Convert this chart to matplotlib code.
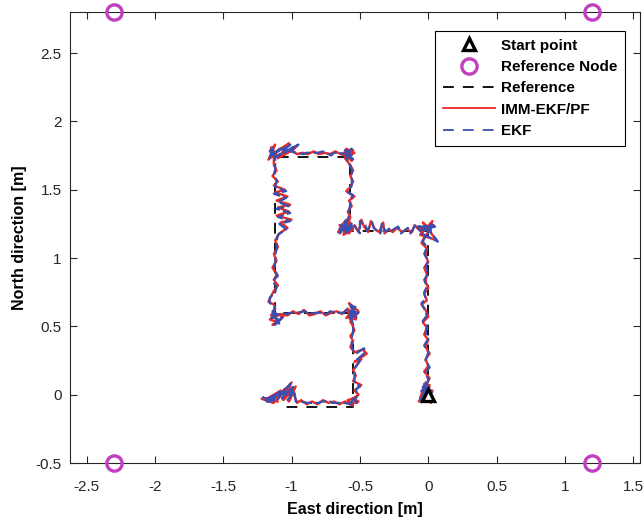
import matplotlib
matplotlib.use('Agg')
import matplotlib.pyplot as plt
from matplotlib.ticker import FormatStrFormatter
import numpy as np

plt.rcParams['font.family'] = ['Liberation Sans', 'DejaVu Sans']

# start point and reference nodes [m]
start_pt = (0.0, 0.0)
node_east = [-2.3, 1.2, -2.3, 1.2]
node_north = [2.8, 2.8, -0.5, -0.5]

# reference walking path
ref_east = [0.0, 0.0, -0.57, -0.57, -1.12, -1.12, -0.55, -0.55, -1.05]
ref_north = [0.0, 1.2, 1.2, 1.74, 1.74, 0.6, 0.6, -0.09, -0.09]

# IMM-EKF/PF estimate (east, north)
imm_path = [
    (0.00, 0.00), (-0.07, -0.05), (0.01, 0.07), (-0.05, 0.02), (0.04, -0.04), (-0.02, 0.09),
    (0.02, -0.06), (-0.04, 0.05), (0.03, 0.03), (-0.06, -0.02), (0.01, 0.12), (-0.03, 0.17),
    (0.00, 0.21), (-0.02, 0.26),
    (0.01, 0.30), (-0.02, 0.35), (0.00, 0.40), (-0.03, 0.44), (-0.01, 0.49), (-0.04, 0.53),
    (0.00, 0.57), (-0.02, 0.62), (-0.05, 0.66), (-0.01, 0.69), (-0.03, 0.74), (0.00, 0.78),
    (-0.02, 0.83), (-0.01, 0.88), (-0.03, 0.93), (0.00, 0.97), (-0.02, 1.02), (-0.01, 1.07),
    (-0.05, 1.11), (-0.03, 1.15), (0.00, 1.19), (0.03, 1.27), (-0.06, 1.17), (0.06, 1.13),
    (-0.04, 1.26), (0.02, 1.20), (-0.08, 1.22), (0.04, 1.24), (-0.05, 1.19), (-0.10, 1.24),
    (-0.12, 1.19), (-0.16, 1.21), (-0.19, 1.19), (-0.23, 1.22), (-0.26, 1.19), (-0.29, 1.21),
    (-0.32, 1.18), (-0.33, 1.26), (-0.36, 1.19), (-0.39, 1.21), (-0.42, 1.27), (-0.44, 1.19),
    (-0.47, 1.23), (-0.49, 1.28), (-0.51, 1.19), (-0.54, 1.24), (-0.58, 1.18), (-0.64, 1.22),
    (-0.57, 1.26), (-0.66, 1.19), (-0.60, 1.28), (-0.62, 1.17), (-0.55, 1.21), (-0.63, 1.25),
    (-0.59, 1.20), (-0.65, 1.24), (-0.61, 1.19), (-0.57, 1.30), (-0.59, 1.34), (-0.56, 1.38),
    (-0.58, 1.42), (-0.54, 1.45),
    (-0.60, 1.49), (-0.57, 1.52), (-0.55, 1.56), (-0.57, 1.60), (-0.55, 1.64), (-0.57, 1.68),
    (-0.61, 1.73), (-0.54, 1.77), (-0.60, 1.80), (-0.56, 1.71), (-0.62, 1.77), (-0.55, 1.79),
    (-0.59, 1.74), (-0.64, 1.76), (-0.68, 1.78), (-0.72, 1.76), (-0.76, 1.77), (-0.80, 1.76),
    (-0.84, 1.78), (-0.88, 1.76), (-0.92, 1.77), (-0.96, 1.76), (-1.00, 1.79), (-0.96, 1.82),
    (-1.05, 1.76), (-0.98, 1.80), (-1.10, 1.73), (-1.02, 1.84), (-1.15, 1.75), (-1.08, 1.80),
    (-1.17, 1.72), (-1.12, 1.83), (-1.16, 1.78), (-1.10, 1.74), (-1.15, 1.81), (-1.13, 1.73),
    (-1.13, 1.68), (-1.11, 1.64),
    (-1.14, 1.60), (-1.10, 1.56), (-1.13, 1.53), (-1.05, 1.50), (-1.12, 1.48), (-1.03, 1.45),
    (-1.11, 1.42), (-1.01, 1.39), (-1.10, 1.37), (-1.02, 1.34), (-1.11, 1.31), (-1.00, 1.28),
    (-1.08, 1.26), (-1.03, 1.22), (-1.09, 1.18), (-1.12, 1.13), (-1.10, 1.08), (-1.13, 1.03),
    (-1.11, 0.98), (-1.14, 0.93), (-1.11, 0.88), (-1.13, 0.84), (-1.10, 0.80), (-1.13, 0.76),
    (-1.15, 0.72), (-1.17, 0.68), (-1.13, 0.66), (-1.12, 0.63), (-1.15, 0.58), (-1.09, 0.54),
    (-1.14, 0.51), (-1.06, 0.57), (-1.13, 0.60), (-1.10, 0.53), (-1.16, 0.55), (-1.08, 0.59),
    (-1.03, 0.58), (-0.99, 0.61), (-0.95, 0.59), (-0.91, 0.62), (-0.87, 0.58), (-0.83, 0.59),
    (-0.79, 0.61), (-0.75, 0.58), (-0.71, 0.60), (-0.67, 0.61), (-0.63, 0.59), (-0.60, 0.62),
    (-0.53, 0.57), (-0.58, 0.67), (-0.51, 0.61), (-0.57, 0.53), (-0.54, 0.64), (-0.60, 0.56),
    (-0.52, 0.59), (-0.56, 0.60), (-0.53, 0.55), (-0.59, 0.63), (-0.56, 0.52), (-0.54, 0.47),
    (-0.57, 0.43), (-0.55, 0.39),
    (-0.57, 0.35), (-0.54, 0.31), (-0.48, 0.33), (-0.45, 0.30), (-0.54, 0.24), (-0.49, 0.26),
    (-0.55, 0.18), (-0.53, 0.14), (-0.55, 0.10), (-0.49, 0.07), (-0.54, 0.03), (-0.51, 0.00),
    (-0.55, -0.03), (-0.51, -0.05), (-0.58, -0.07), (-0.53, -0.02), (-0.59, -0.04), (-0.55, -0.08),
    (-0.61, -0.05), (-0.65, -0.07), (-0.69, -0.05), (-0.73, -0.06), (-0.77, -0.04), (-0.81, -0.07),
    (-0.85, -0.05), (-0.89, -0.07), (-0.93, -0.04), (-0.96, -0.06), (-0.99, 0.02), (-1.02, -0.05),
    (-0.97, 0.06), (-1.06, -0.04), (-1.00, 0.09), (-1.10, -0.03), (-1.04, 0.05), (-1.14, -0.04),
    (-1.08, 0.03), (-1.18, -0.03), (-1.12, -0.02), (-1.22, -0.03), (-1.13, -0.06), (-1.19, -0.04),
    (-1.10, -0.05), (-1.16, -0.02), (-1.11, -0.04),
]

# EKF estimate (east, north)
ekf_path = [
    (0.00, 0.01), (-0.06, -0.04), (0.02, 0.06), (-0.05, 0.03), (0.03, -0.05), (-0.03, 0.08),
    (0.02, -0.04), (-0.04, 0.06), (0.03, 0.02), (-0.05, -0.03), (0.00, 0.11), (-0.02, 0.16),
    (0.01, 0.20), (-0.02, 0.25),
    (0.00, 0.31), (-0.03, 0.36), (0.00, 0.41), (-0.02, 0.45), (-0.01, 0.50), (-0.04, 0.54),
    (-0.01, 0.58), (-0.03, 0.63), (-0.05, 0.67), (-0.02, 0.70), (-0.03, 0.75), (-0.01, 0.79),
    (-0.03, 0.84), (0.00, 0.89), (-0.02, 0.94), (0.00, 0.98), (-0.03, 1.03), (-0.01, 1.08),
    (-0.04, 1.12), (-0.02, 1.16), (0.01, 1.20), (0.04, 1.26), (-0.05, 1.18), (0.07, 1.12),
    (-0.03, 1.25), (0.01, 1.21), (-0.07, 1.23), (0.05, 1.23), (-0.06, 1.20), (-0.09, 1.25),
    (-0.13, 1.18), (-0.15, 1.22), (-0.20, 1.18), (-0.22, 1.23), (-0.27, 1.20), (-0.28, 1.22),
    (-0.31, 1.19), (-0.34, 1.25), (-0.35, 1.18), (-0.40, 1.22), (-0.41, 1.26), (-0.45, 1.20),
    (-0.46, 1.24), (-0.50, 1.27), (-0.50, 1.18), (-0.55, 1.25), (-0.59, 1.19), (-0.65, 1.21),
    (-0.56, 1.25), (-0.65, 1.18), (-0.61, 1.27), (-0.61, 1.18), (-0.56, 1.22), (-0.64, 1.24),
    (-0.58, 1.21), (-0.64, 1.20), (-0.60, 1.25), (-0.58, 1.31), (-0.58, 1.35), (-0.57, 1.39),
    (-0.57, 1.43), (-0.55, 1.46),
    (-0.59, 1.48), (-0.56, 1.53), (-0.56, 1.57), (-0.56, 1.61), (-0.56, 1.65), (-0.58, 1.69),
    (-0.60, 1.74), (-0.55, 1.76), (-0.61, 1.79), (-0.55, 1.72), (-0.61, 1.76), (-0.56, 1.80),
    (-0.58, 1.75), (-0.65, 1.77), (-0.69, 1.77), (-0.71, 1.75), (-0.77, 1.78), (-0.81, 1.77),
    (-0.83, 1.77), (-0.89, 1.77), (-0.91, 1.76), (-0.97, 1.77), (-1.01, 1.78), (-0.95, 1.83),
    (-1.06, 1.77), (-0.99, 1.81), (-1.11, 1.74), (-1.01, 1.83), (-1.14, 1.76), (-1.07, 1.81),
    (-1.16, 1.73), (-1.13, 1.82), (-1.15, 1.77), (-1.11, 1.73), (-1.16, 1.80), (-1.12, 1.75),
    (-1.12, 1.69), (-1.12, 1.65),
    (-1.13, 1.61), (-1.11, 1.57), (-1.12, 1.52), (-1.04, 1.49), (-1.13, 1.47), (-1.04, 1.44),
    (-1.10, 1.41), (-1.02, 1.38), (-1.11, 1.36), (-1.01, 1.33), (-1.10, 1.30), (-1.01, 1.27),
    (-1.09, 1.25), (-1.04, 1.21), (-1.10, 1.17), (-1.11, 1.12), (-1.11, 1.07), (-1.12, 1.02),
    (-1.12, 0.97), (-1.13, 0.92), (-1.10, 0.87), (-1.14, 0.83), (-1.11, 0.79), (-1.12, 0.75),
    (-1.16, 0.71), (-1.16, 0.67), (-1.12, 0.65), (-1.13, 0.62), (-1.14, 0.57), (-1.10, 0.55),
    (-1.13, 0.50), (-1.07, 0.56), (-1.14, 0.61), (-1.09, 0.52), (-1.15, 0.56), (-1.07, 0.60),
    (-1.04, 0.59), (-1.00, 0.60), (-0.96, 0.60), (-0.90, 0.61), (-0.88, 0.59), (-0.82, 0.60),
    (-0.80, 0.60), (-0.74, 0.59), (-0.72, 0.61), (-0.66, 0.60), (-0.62, 0.60), (-0.59, 0.63),
    (-0.54, 0.58), (-0.57, 0.66), (-0.52, 0.62), (-0.58, 0.54), (-0.53, 0.65), (-0.59, 0.57),
    (-0.51, 0.60), (-0.57, 0.61), (-0.52, 0.56), (-0.58, 0.62), (-0.55, 0.51), (-0.55, 0.46),
    (-0.56, 0.42), (-0.56, 0.38),
    (-0.56, 0.34), (-0.53, 0.30), (-0.47, 0.34), (-0.46, 0.31), (-0.53, 0.25), (-0.50, 0.25),
    (-0.54, 0.19), (-0.54, 0.13), (-0.54, 0.09), (-0.50, 0.06), (-0.53, 0.04), (-0.52, -0.01),
    (-0.54, -0.04), (-0.52, -0.06), (-0.57, -0.06), (-0.54, -0.03), (-0.58, -0.05), (-0.56, -0.07),
    (-0.62, -0.06), (-0.64, -0.06), (-0.70, -0.06), (-0.72, -0.05), (-0.78, -0.05), (-0.80, -0.06),
    (-0.86, -0.06), (-0.88, -0.06), (-0.94, -0.05), (-0.97, -0.05), (-0.98, 0.03), (-1.03, -0.04),
    (-0.98, 0.07), (-1.07, -0.03), (-1.01, 0.08), (-1.11, -0.04), (-1.05, 0.04), (-1.15, -0.03),
    (-1.09, 0.02), (-1.19, -0.04), (-1.13, -0.03), (-1.21, -0.02), (-1.14, -0.05), (-1.18, -0.05),
    (-1.11, -0.04), (-1.17, -0.03), (-1.12, -0.05),
]

imm_east, imm_north = zip(*imm_path)
ekf_east, ekf_north = zip(*ekf_path)

fig = plt.figure(figsize=(6.44, 5.22), dpi=100)
ax = fig.add_axes([0.109, 0.113, 0.885, 0.864])

ax.plot(ref_east, ref_north, color='black', ls=(0, (6, 5)), lw=1.3, label='Reference', zorder=2)
ax.plot(imm_east, imm_north, color='#ee2a22', lw=1.7, label='IMM-EKF/PF', zorder=3)
ax.plot(ekf_east, ekf_north, color='#3a4fb0', ls=(0, (5, 1.5)), lw=1.6, label='EKF', zorder=4)
ax.plot([start_pt[0]], [start_pt[1]], ls='none', marker='^', ms=9, mfc='white', mec='black',
        mew=2.4, label='Start point', zorder=6)
ax.plot(node_east, node_north, ls='none', marker='o', ms=11, mfc='none', mec='#c040c0',
        mew=2.4, label='Reference Node', clip_on=False, zorder=7)

ax.set_xlim(-2.62, 1.55)
ax.set_ylim(-0.5, 2.8)
ax.set_xticks(np.arange(-2.5, 1.51, 0.5))
ax.set_yticks(np.arange(-0.5, 2.51, 0.5))
ax.xaxis.set_major_formatter(FormatStrFormatter('%g'))
ax.yaxis.set_major_formatter(FormatStrFormatter('%g'))
ax.tick_params(direction='in', top=True, right=True, length=5, width=0.8,
               labelsize=11, colors='#262626')
ax.tick_params(axis='x', pad=12)
ax.tick_params(axis='y', pad=6)
for s in ax.spines.values():
    s.set_linewidth(0.8)
    s.set_color('#262626')

ax.set_xlabel('East direction [m]', fontsize=11.5, fontweight='bold', labelpad=6)
ax.set_ylabel('North direction [m]', fontsize=11.5, fontweight='bold', labelpad=6)

# legend: the EKF line handle is drawn with the legend's dash style
handles, labels = ax.get_legend_handles_labels()
order = [3, 4, 0, 1, 2]
leg = ax.legend([handles[i] for i in order], [labels[i] for i in order], loc='upper right',
                bbox_to_anchor=(0.9737, 0.958), borderaxespad=0,
                prop={'weight': 'bold', 'size': 11},
                fancybox=False, edgecolor='black', framealpha=1, handlelength=3.4,
                borderpad=0.5, labelspacing=0.48, handletextpad=0.4)
leg.get_frame().set_linewidth(0.8)
leg.get_lines()[4].set_linestyle((0, (6, 5)))
leg.get_lines()[4].set_linewidth(1.3)
leg.get_lines()[3].set_linewidth(1.3)

plt.savefig('out.png', dpi=100)
